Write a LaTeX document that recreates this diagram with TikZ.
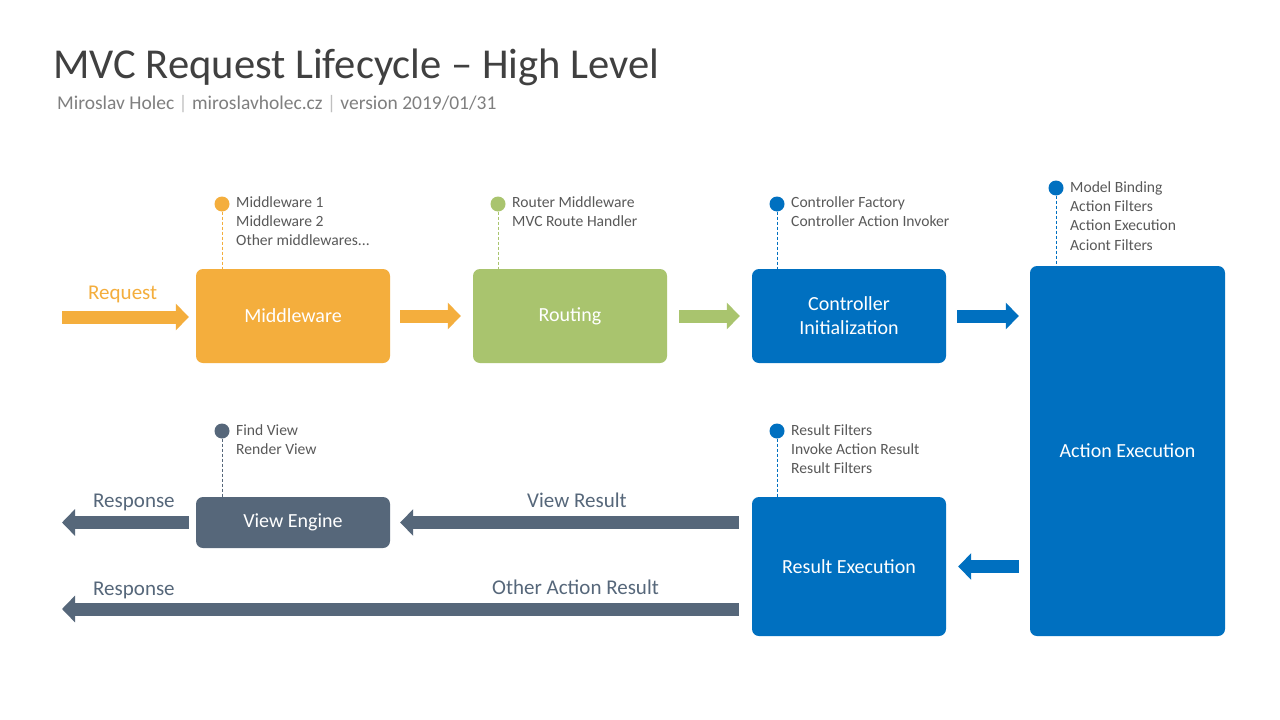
\documentclass[tikz,border=0pt]{standalone}
\usepackage{fontspec}
\setmainfont{Carlito}
\usetikzlibrary{arrows.meta}
\definecolor{cOr}{HTML}{F4AE3D}
\definecolor{cGr}{HTML}{A9C46E}
\definecolor{cBl}{HTML}{0070C0}
\definecolor{cSl}{HTML}{56677A}
\definecolor{cTitle}{HTML}{404040}
\definecolor{cSub}{HTML}{7F7F7F}
\definecolor{cSep}{HTML}{BFBFBF}
\definecolor{cAnn}{HTML}{595959}
\tikzset{
  box/.style={rounded corners=7pt, inner sep=0pt, text=white, align=center,
    font=\fontsize{20}{24}\selectfont},
  barrow/.style={line width=13pt, line cap=butt, -{Triangle[length=13pt,width=26pt]}},
  dot/.style={circle, inner sep=0pt, minimum size=15pt},
  lead/.style={line width=0.8pt, dash pattern=on 3pt off 2pt},
  ann/.style={anchor=base west, inner sep=0pt, text=cAnn, font=\fontsize{15.6}{19}\selectfont},
  alabel/.style={anchor=base west, inner sep=0pt, font=\fontsize{21}{24}\selectfont},
}
\begin{document}
\begin{tikzpicture}[x=1pt,y=-1pt]
\useasboundingbox[fill=white] (0,0) rectangle (1280,720);

% title
\node[anchor=base west, inner sep=0pt, text=cTitle, font=\fontsize{42.6}{50}\selectfont] (title) at (53,78) {MVC Request Lifecycle – High Level};
\node[anchor=base west, inner sep=0pt, text=cSub, font=\fontsize{19.5}{23}\selectfont] (sub) at (57,109)
  {Miroslav Holec {\color{cSep}|} miroslavholec.cz {\color{cSep}|} version 2019/01/31};

% boxes
\node[box, fill=cOr, minimum width=194pt, minimum height=94pt] (mw) at (293,316) {Middleware};
\node[box, fill=cGr, minimum width=194pt, minimum height=94pt] (rt) at (570,316) {Routing};
\node[box, fill=cBl, minimum width=194pt, minimum height=94pt] (ci) at (849,316) {Controller\\Initialization};
\node[box, fill=cBl, minimum width=195pt, minimum height=370pt] (ae) at (1127.5,451) {Action Execution};
\node[box, fill=cBl, minimum width=194pt, minimum height=139pt] (re) at (849,566.5) {Result Execution};
\node[box, fill=cSl, minimum width=194pt, minimum height=51pt] (ve) at (293,522.5) {View Engine};

% coordinates for free ends
\coordinate (reqstart) at (62,317);
\coordinate (resp1) at (62,522.5);
\coordinate (resp2) at (62,609);

% arrows
\draw[barrow, cOr, shorten >=7pt] (reqstart) -- (reqstart -| mw.west);
\draw[barrow, cOr, shorten <=10pt, shorten >=12pt] (mw.east) -- (rt.west);
\draw[barrow, cGr, shorten <=12pt, shorten >=12pt] (rt.east) -- (ci.west);
\draw[barrow, cBl, shorten <=11pt, shorten >=11pt] (ci.east) -- (ci.east -| ae.west);
\draw[barrow, cBl, shorten <=11pt, shorten >=12pt] (re.east -| ae.west) -- (re.east);
\draw[barrow, cSl, shorten <=13pt, shorten >=10pt] (ve.east -| re.west) -- (ve.east);
\draw[barrow, cSl, shorten <=7pt] (ve.west) -- (resp1);
\draw[barrow, cSl, shorten <=13pt] (resp2 -| re.west) -- (resp2);

% arrow labels
\node[alabel, text=cOr] (lreq) at (88,299) {Request};
\node[alabel, text=cSl] (lresp1) at (93,507) {Response};
\node[alabel, text=cSl] (lvr) at (527,507) {View Result};
\node[alabel, text=cSl] (lresp2) at (93,595) {Response};
\node[alabel, text=cSl] (loar) at (492,594) {Other Action Result};

% annotation dots and leaders
\node[dot, fill=cOr] (dmw) at (222,204) {};
\draw[lead, cOr] (dmw) -- (dmw |- mw.north);
\node[dot, fill=cGr] (drt) at (498,204) {};
\draw[lead, cGr] (drt) -- (drt |- rt.north);
\node[dot, fill=cBl] (dci) at (777,204) {};
\draw[lead, cBl] (dci) -- (dci |- ci.north);
\node[dot, fill=cBl] (dae) at (1056,188) {};
\draw[lead, cBl] (dae) -- (dae |- ae.north);
\node[dot, fill=cBl] (dre) at (777,431) {};
\draw[lead, cBl] (dre) -- (dre |- re.north);
\node[dot, fill=cSl] (dve) at (222,431) {};
\draw[lead, cSl] (dve) -- (dve |- ve.north);

% annotation texts
\node[ann] (a1) at (236,207) {Middleware 1};
\node[ann] (a2) at (236,226) {Middleware 2};
\node[ann] (a3) at (236,245) {Other middlewares...};
\node[ann] (b1) at (512,207) {Router Middleware};
\node[ann] (b2) at (512,226) {MVC Route Handler};
\node[ann] (c1) at (791,207) {Controller Factory};
\node[ann] (c2) at (791,226) {Controller Action Invoker};
\node[ann] (e1) at (1070,192) {Model Binding};
\node[ann] (e2) at (1070,211) {Action Filters};
\node[ann] (e3) at (1070,230) {Action Execution};
\node[ann] (e4) at (1070,250) {Aciont Filters};
\node[ann] (r1) at (791,435) {Result Filters};
\node[ann] (r2) at (791,454) {Invoke Action Result};
\node[ann] (r3) at (791,473) {Result Filters};
\node[ann] (v1) at (236,435) {Find View};
\node[ann] (v2) at (236,454) {Render View};
\end{tikzpicture}
\end{document}
